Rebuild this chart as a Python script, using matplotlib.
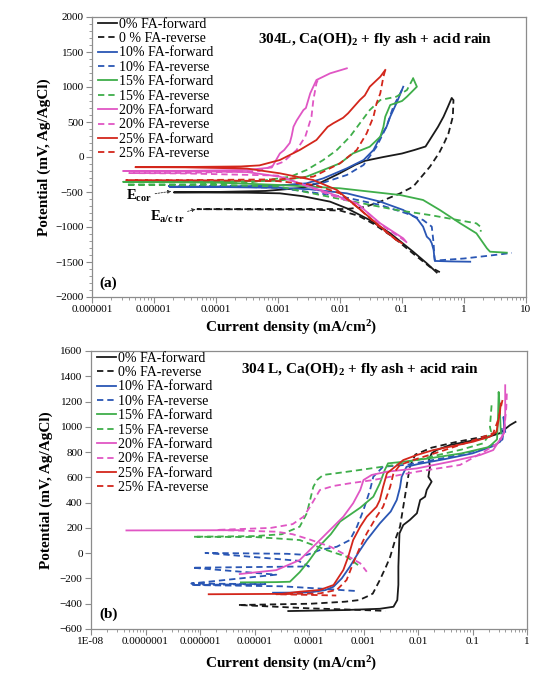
import numpy as np
import matplotlib
matplotlib.use('Agg')
import matplotlib.pyplot as plt
from matplotlib.ticker import FixedLocator, LogLocator, NullFormatter, MultipleLocator, NullLocator

plt.rcParams['font.family'] = ['Liberation Serif', 'DejaVu Serif']
plt.rcParams['mathtext.fontset'] = 'custom'
plt.rcParams['mathtext.rm'] = 'Liberation Serif'
plt.rcParams['mathtext.it'] = 'Liberation Serif:italic'
plt.rcParams['mathtext.bf'] = 'Liberation Serif:bold'

# ---------------- DATA (log10 of current density in mA/cm2, potential in mV) ----------------
LABELS = ["0% FA-forward", "0 % FA-reverse", "10% FA-forward", "10% FA-reverse",
          "15% FA-forward", "15% FA-reverse", "20% FA-forward", "20% FA-reverse",
          "25% FA-forward", "25% FA-reverse"]
LABELS_B = ["0% FA-forward", "0% FA-reverse", "10% FA-forward", "10% FA-reverse",
            "15% FA-forward", "15% FA-reverse", "20% FA-forward", "20% FA-reverse",
            "25% FA-forward", "25% FA-reverse"]

# Panel (a)
a0f_logi = [-0.44, -0.6, -0.82, -1.19, -1.52, -1.89, -2.16, -2.6, -2.97, -3.5, -4.2, -4.68, -4.0, -3.2, -2.6, -2.3, -2.0, -1.75, -1.6, -1.3, -1.0, -0.8, -0.62, -0.52, -0.42, -0.33, -0.26, -0.2]
a0f_e = [-1650, -1519, -1353, -1090, -900, -733, -638, -560, -519, -510, -507, -505, -500, -485, -440, -360, -230, -110, -55, 0, 50, 100, 150, 290, 430, 576, 716, 840]
a0r_logi = [-0.2, -0.17, -0.18, -0.25, -0.32, -0.4, -0.55, -0.82, -1.03, -1.35, -1.6, -1.9, -3.0, -4.3, -3.5, -2.5, -2.0, -1.7, -1.45, -1.15, -0.82, -0.55, -0.39]
a0r_e = [840, 814, 576, 338, 200, 60, -139, -424, -519, -638, -715, -743, -745, -745, -748, -752, -765, -840, -960, -1140, -1380, -1570, -1645]
a10f_logi = [0.1, -0.2, -0.47, -0.48, -0.49, -0.52, -0.55, -0.6, -0.66, -0.76, -0.98, -1.35, -1.89, -2.5, -3.0, -4.0, -4.75, -4.0, -3.0, -2.54, -2.27, -1.89, -1.62, -1.46, -1.35, -1.25, -1.19, -1.09, -0.98]
a10f_e = [-1496, -1492, -1485, -1420, -1329, -1233, -1180, -1138, -995, -876, -757, -638, -519, -460, -440, -428, -425, -422, -410, -376, -305, -162, -43, 100, 290, 430, 576, 767, 1004]
a10r_logi = [-1.0, -1.14, -1.25, -1.41, -1.62, -1.89, -2.3, -3.0, -4.0, -4.8, -4.0, -3.0, -2.0, -1.35, -0.93, -0.66, -0.52, -0.49, -0.48, -0.47, 0.0, 0.4, 0.77]
a10r_e = [960, 719, 433, 147, -114, -257, -376, -405, -413, -415, -418, -440, -560, -686, -805, -900, -995, -1233, -1400, -1480, -1450, -1410, -1370]
a15f_logi = [0.69, 0.42, 0.37, 0.2, -0.06, -0.39, -0.66, -1.03, -2.0, -2.97, -4.0, -5.5, -4.0, -3.0, -2.54, -2.27, -2.0, -1.79, -1.52, -1.35, -1.3, -1.27, -1.19, -1.0, -0.92, -0.76, -0.82]
a15f_e = [-1367, -1353, -1305, -1090, -948, -757, -614, -543, -447, -400, -365, -355, -350, -340, -281, -186, -90, 52, 147, 290, 430, 576, 743, 800, 862, 1004, 1124]
a15r_logi = [-0.82, -0.92, -1.09, -1.35, -1.52, -1.68, -1.84, -2.05, -2.27, -2.54, -2.8, -3.5, -4.5, -5.45, -4.0, -3.0, -2.0, -1.09, -0.55, 0.2, 0.27, 0.27]
a15r_e = [1124, 957, 862, 814, 671, 481, 290, 100, -43, -186, -281, -370, -392, -395, -400, -420, -600, -757, -829, -948, -1000, -1067]
a20f_logi = [-0.93, -0.98, -1.35, -1.73, -2.16, -2.97, -3.5, -4.5, -5.5, -4.5, -3.5, -3.1, -2.97, -2.9, -2.81, -2.78, -2.75, -2.7, -2.59, -2.55, -2.48, -2.38, -2.16, -1.89]
a20f_e = [-1215, -1162, -948, -662, -519, -281, -215, -202, -200, -198, -185, -150, 50, 100, 200, 300, 433, 520, 671, 700, 910, 1100, 1195, 1267]
a20r_logi = [-2.36, -2.38, -2.43, -2.46, -2.56, -2.7, -2.91, -3.3, -4.5, -5.4, -4.5, -3.0, -2.16, -1.7, -1.35, -0.93]
a20r_e = [1096, 1053, 814, 576, 290, 100, -67, -200, -228, -230, -235, -265, -540, -680, -960, -1210]
a25f_logi = [-1.0, -1.09, -1.41, -1.73, -2.05, -2.43, -2.97, -3.5, -4.5, -5.3, -4.5, -3.6, -3.3, -2.97, -2.65, -2.38, -2.2, -2.11, -1.95, -1.87, -1.68, -1.6, -1.52, -1.35, -1.27]
a25f_e = [-1233, -1186, -948, -710, -471, -329, -233, -165, -148, -145, -143, -135, -120, -43, 100, 243, 430, 481, 560, 624, 814, 880, 1004, 1147, 1243]
a25r_logi = [-1.27, -1.3, -1.35, -1.41, -1.46, -1.57, -1.73, -2.0, -2.43, -3.0, -4.5, -5.45, -4.0, -3.0, -2.4, -2.0, -1.7, -1.4, -1.05]
a25r_e = [1243, 1147, 910, 767, 576, 338, 100, -90, -281, -320, -330, -330, -335, -345, -400, -520, -730, -970, -1215]

# Panel (b)
b0f_logi = [-4.38, -3.34, -2.7, -2.45, -2.38, -2.36, -2.36, -2.34, -2.27, -2.15, -2.02, -1.96, -1.87, -1.84, -1.75, -1.81, -1.78, -1.8, -1.75, -1.66, -1.41, -1.11, -0.8, -0.5, -0.31, -0.21]
b0f_e = [-458, -450, -440, -424, -371, -250, -107, 157, 223, 263, 316, 421, 447, 500, 566, 605, 684, 737, 790, 816, 856, 882, 909, 949, 1014, 1039]
b0r_logi = [-0.55, -0.88, -1.3, -1.75, -2.05, -2.15, -2.21, -2.27, -2.33, -2.42, -2.51, -2.58, -2.7, -2.83, -2.94, -3.08, -3.34, -3.97, -5.3, -4.6, -3.97, -3.34, -2.7, -2.6]
b0r_e = [945, 915, 880, 835, 780, 684, 526, 368, 210, 104, -28, -100, -212, -320, -344, -371, -384, -400, -410, -424, -437, -445, -455, -458]
b10f_logi = [-4.66, -4.3, -3.98, -3.7, -3.55, -3.4, -3.25, -3.1, -2.94, -2.7, -2.5, -2.39, -2.33, -2.3, -2.21, -2.0, -1.5, -1.0, -0.6, -0.45, -0.42, -0.43, -0.4]
b10f_e = [-313, -312, -310, -292, -265, -200, -107, 0, 104, 236, 330, 421, 520, 605, 684, 705, 745, 790, 850, 900, 1000, 1078, 960]
b10r_logi = [-0.46, -0.5, -0.8, -1.5, -2.2, -2.64, -2.82, -2.88, -3.0, -3.12, -3.25, -3.49, -3.8, -4.04, -4.4, -5.9, -4.2, -4.0, -6.14, -4.6, -6.16, -4.8, -6.16, -4.5, -3.8, -3.3, -3.1]
b10r_e = [990, 880, 825, 755, 700, 684, 605, 500, 342, 210, 104, 51, 25, -14, -5, 2, -60, -105, -115, -170, -240, -245, -252, -262, -280, -295, -300]
b15f_logi = [-5.25, -4.6, -4.35, -4.17, -4.0, -3.8, -3.6, -3.43, -3.06, -2.82, -2.7, -2.61, -2.55, -2.3, -1.8, -1.2, -0.7, -0.55, -0.53, -0.52, -0.5, -0.48]
b15f_e = [-231, -229, -226, -150, -60, 60, 150, 250, 360, 447, 553, 658, 711, 722, 750, 790, 840, 900, 1100, 1276, 1150, 950]
b15r_logi = [-0.65, -0.68, -0.66, -0.8, -1.2, -1.8, -2.4, -2.96, -3.46, -3.74, -3.85, -3.92, -3.98, -4.04, -4.17, -4.5, -5.0, -6.12, -5.0, -4.6, -4.17, -3.68, -3.31, -3.1]
b15r_e = [1170, 1000, 960, 870, 820, 760, 700, 665, 635, 619, 580, 526, 421, 316, 210, 150, 135, 130, 128, 117, 104, 25, -28, -94]
b20f_logi = [-7.35, -5.3, np.nan, -5.27, -4.6, -4.17, -3.8, -3.37, -3.19, -3.06, -3.0, -2.85, -2.57, -2.02, -1.41, -0.86, -0.62, -0.5, -0.42, -0.4, -0.4]
b20f_e = [180, 182, np.nan, -165, -134, -54, 104, 289, 395, 500, 579, 619, 645, 671, 724, 777, 816, 896, 950, 1100, 1329]
b20r_logi = [-0.37, -0.38, -0.42, -0.5, -0.8, -1.23, -2.02, -2.82, -3.25, -3.55, -3.8, -3.98, -4.1, -4.3, -4.7, -5.7, -4.6, -4.3, -4.0, -3.6, -3.3, -3.06, -2.94]
b20r_e = [1263, 1150, 960, 880, 800, 698, 645, 579, 553, 532, 500, 368, 289, 230, 200, 184, 170, 150, 110, 50, -20, -80, -147]
b25f_logi = [-5.84, -4.5, -4.17, -3.8, -3.55, -3.37, -3.28, -3.19, -3.06, -2.94, -2.76, -2.7, -2.64, -2.57, -2.42, -2.27, -2.02, -1.72, -1.41, -0.99, -0.68, -0.56, -0.5, -0.48]
b25f_e = [-325, -322, -305, -291, -252, -133, -28, 104, 210, 289, 368, 421, 526, 632, 684, 737, 777, 816, 843, 882, 922, 961, 1107, 1184]
b25r_logi = [-0.45, -0.53, -0.62, -1.0, -1.6, -2.09, -2.33, -2.45, -2.51, -2.64, -2.76, -2.94, -3.06, -3.19, -3.31, -3.49, -3.8, -4.6, -4.0, -3.5]
b25r_e = [1212, 1054, 949, 890, 803, 737, 698, 632, 526, 368, 289, 157, 51, -80, -212, -291, -318, -325, -330, -335]

XTICKS_A = [1e-6, 1e-5, 1e-4, 1e-3, 1e-2, 1e-1, 1, 10]
XTICKLABELS_A = ["0.000001", "0.00001", "0.0001", "0.001", "0.01", "0.1", "1", "10"]
XTICKS_B = [1e-8, 1e-7, 1e-6, 1e-5, 1e-4, 1e-3, 1e-2, 1e-1, 1]
XTICKLABELS_B = ["1E-08", "0.0000001", "0.000001", "0.00001", "0.0001", "0.001", "0.01", "0.1", "1"]
YTICKS_A = [-2000, -1500, -1000, -500, 0, 500, 1000, 1500, 2000]
YTICKS_B = [-600, -400, -200, 0, 200, 400, 600, 800, 1000, 1200, 1400, 1600]

COLORS = ["#1a1a1a", "#1a1a1a", "#2a56b4", "#2a56b4", "#3fae4a", "#3fae4a",
          "#e056c4", "#e056c4", "#d3261b", "#d3261b"]
STYLES = ["-", "--"] * 5

SER_A = [(a0f_logi, a0f_e), (a0r_logi, a0r_e), (a10f_logi, a10f_e), (a10r_logi, a10r_e),
         (a15f_logi, a15f_e), (a15r_logi, a15r_e), (a20f_logi, a20f_e), (a20r_logi, a20r_e),
         (a25f_logi, a25f_e), (a25r_logi, a25r_e)]
SER_B = [(b0f_logi, b0f_e), (b0r_logi, b0r_e), (b10f_logi, b10f_e), (b10r_logi, b10r_e),
         (b15f_logi, b15f_e), (b15r_logi, b15r_e), (b20f_logi, b20f_e), (b20r_logi, b20r_e),
         (b25f_logi, b25f_e), (b25r_logi, b25r_e)]

# ---------------- FIGURE ----------------
fig = plt.figure(figsize=(5.4, 6.78), dpi=100)
axA = fig.add_axes([92/540, 1-297/678, 434/540, 280/678])
axB = fig.add_axes([91/540, 1-629/678, 436/540, 278/678])

SPINE = "#8c8c8c"


def draw(ax, series, labels):
    for (li, e), lab, c, ls in zip(series, labels, COLORS, STYLES):
        kw = dict(color=c, lw=1.3, label=lab)
        if ls == "--":
            kw["dashes"] = (3.5, 2.2)
        ax.plot(np.power(10.0, np.array(li, dtype=float)), e, **kw)


def style(ax, xt, xtl, yt, ylim, xlim, yminor):
    ax.set_xscale('log')
    ax.set_xlim(*xlim)
    ax.set_ylim(*ylim)
    ax.xaxis.set_major_locator(FixedLocator(xt))
    ax.set_xticklabels(xtl)
    ax.xaxis.set_minor_locator(LogLocator(base=10, subs=np.arange(2, 10), numticks=30))
    ax.xaxis.set_minor_formatter(NullFormatter())
    ax.set_yticks(yt)
    if yminor:
        ax.yaxis.set_minor_locator(MultipleLocator(yminor))
    else:
        ax.yaxis.set_minor_locator(NullLocator())
    for s in ax.spines.values():
        s.set_color(SPINE)
        s.set_linewidth(0.9)
    ax.tick_params(which='major', direction='out', length=4, width=0.8, color=SPINE,
                   labelsize=8, pad=2)
    ax.tick_params(which='minor', direction='out', length=2.2, width=0.6, color=SPINE)


draw(axA, SER_A, LABELS)
draw(axB, SER_B, LABELS_B)
style(axA, XTICKS_A, XTICKLABELS_A, YTICKS_A, (-2000, 2000), (1e-6, 10), 100)
style(axB, XTICKS_B, XTICKLABELS_B, YTICKS_B, (-600, 1600), (1e-8, 1), None)

for ax, lx, xly in ((axA, -0.094, -0.079), (axB, -0.087, -0.094)):
    ax.set_ylabel("Potential (mV, Ag/AgCl)", fontsize=11, fontweight='bold')
    ax.yaxis.set_label_coords(lx, 0.5)
    ax.set_xlabel(r"Current density (mA/cm$^{\mathbf{2}}$)", fontsize=11, fontweight='bold')
    ax.xaxis.set_label_coords(0.46, xly)
    ax.legend(loc='upper left', bbox_to_anchor=(0.012, 1.0), frameon=False,
              fontsize=10, handlelength=1.4, handletextpad=0.1,
              labelspacing=0.1, borderpad=0.05, borderaxespad=0.0)

axA.text(0.652, 0.921, r"304L, Ca(OH)$_{\mathbf{2}}$ + fly ash + acid rain", transform=axA.transAxes,
         ha='center', va='center', fontsize=11, fontweight='bold')
axB.text(0.617, 0.935, r"304 L, Ca(OH)$_{\mathbf{2}}$ + fly ash + acid rain", transform=axB.transAxes,
         ha='center', va='center', fontsize=11, fontweight='bold')
axA.text(0.018, 0.05, "(a)", transform=axA.transAxes, ha='left', va='center',
         fontsize=11, fontweight='bold')
axB.text(0.02, 0.054, "(b)", transform=axB.transAxes, ha='left', va='center',
         fontsize=11, fontweight='bold')

arrow = dict(arrowstyle='-|>', lw=0.6, color='#333333', linestyle=(0, (2, 1.5)),
             mutation_scale=5, shrinkA=0, shrinkB=0)
axA.annotate(r"$\mathbf{E_{cor}}$", xy=(1.9e-5, -490), xytext=(3.6e-6, -557),
             fontsize=10.5, ha='left', va='center', arrowprops=arrow)
axA.annotate(r"$\mathbf{E_{a/c\ tr}}$", xy=(4.7e-5, -745), xytext=(8.7e-6, -857),
             fontsize=10.5, ha='left', va='center', arrowprops=arrow)

fig.savefig("out.png", dpi=100)
